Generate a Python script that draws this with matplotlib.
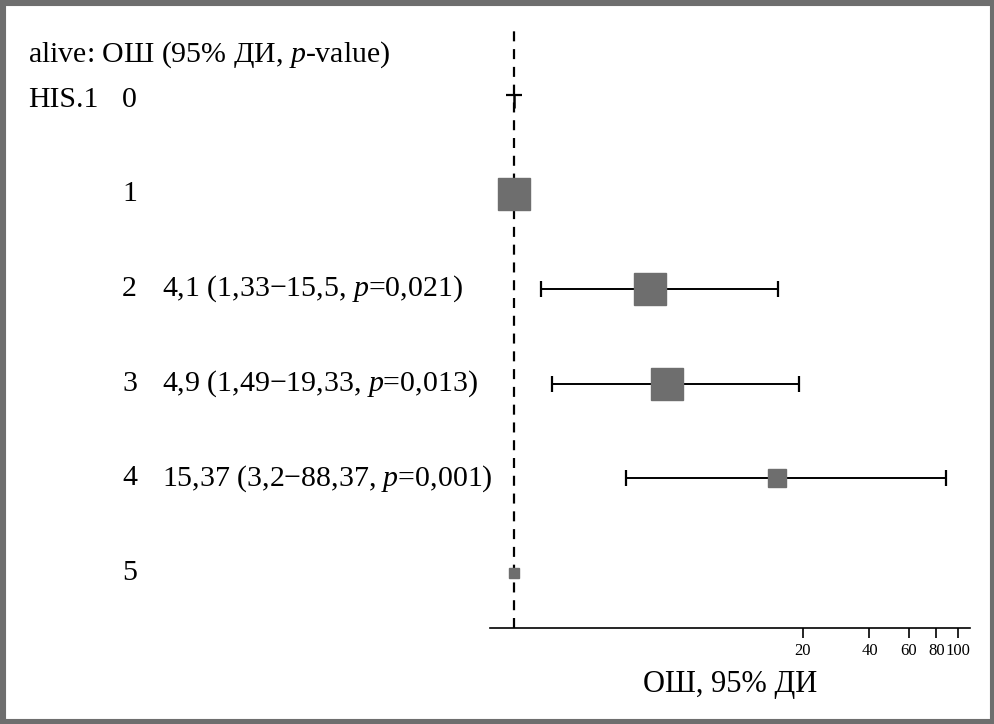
import numpy as np
import matplotlib
matplotlib.use("Agg")
import matplotlib.pyplot as plt
from matplotlib.patches import Rectangle

plt.rcParams['font.family'] = ['Liberation Serif', 'DejaVu Serif']
plt.rcParams['mathtext.fontset'] = 'custom'
plt.rcParams['mathtext.rm'] = 'Liberation Serif'
plt.rcParams['mathtext.it'] = 'Liberation Serif:italic'

# ---- data ----
variable = "HIS.1"
levels = ["0", "1", "2", "3", "4", "5"]
odds_ratio = [1.0, 1.0, 4.1, 4.9, 15.37, 1.0]
ci_low = [np.nan, np.nan, 1.33, 1.49, 3.2, np.nan]
ci_high = [np.nan, np.nan, 15.5, 19.33, 88.37, np.nan]
p_values = ["", "", "0,021", "0,013", "0,001", ""]
est_text = ["", "", "4,1 (1,33\u221215,5, ", "4,9 (1,49\u221219,33, ", "15,37 (3,2\u221288,37, ", ""]
weights = [0.0, 22.5, 22.5, 22.5, 13.5, 6.5]   # relative box sizes
xticks = [20, 40, 60, 80, 100]

W, H = 995, 724
fig = plt.figure(figsize=(W / 100, H / 100), dpi=100)
ax = fig.add_axes([490 / W, 1 - 628 / H, 480 / W, (628 - 24) / H])

ax.set_xscale('log')
ax.set_xlim(0.78, 113.5)
ax.set_ylim(5.58, -0.8)

ax.axvline(1, color='black', ls=(0, (4.5, 3.5)), lw=1.6, zorder=1)

gray = '#6e6e6e'
for i, (o, lo, hi, w) in enumerate(zip(odds_ratio, ci_low, ci_high, weights)):
    if not np.isnan(lo):
        ax.errorbar([o], [i], xerr=[[o - lo], [hi - o]], fmt='none',
                    ecolor='black', elinewidth=1.4, capsize=6, capthick=1.6, zorder=2)
    if w > 0:
        ax.plot([o], [i], marker='s', ms=w, color=gray, mec=gray, ls='none', zorder=3)
    else:
        ax.plot([o], [i - 0.05], marker='_', ms=11, mew=1.6, color='black', zorder=3)
        ax.plot([o], [i - 0.05], marker=3, ms=9, mew=1.8, color='black', zorder=3)

for s in ['top', 'right', 'left']:
    ax.spines[s].set_visible(False)
ax.spines['bottom'].set_linewidth(1.2)
ax.set_yticks([])
ax.set_xticks(xticks)
ax.set_xticklabels([str(t) for t in xticks], fontsize=12)
ax.xaxis.set_minor_locator(matplotlib.ticker.NullLocator())
ax.tick_params(axis='x', length=7, width=1.2, pad=4)
ax.set_xlabel("ОШ, 95% ДИ", fontsize=22, labelpad=8)

tr = matplotlib.transforms.blended_transform_factory(fig.transFigure, ax.transData)
fs = 21.5
ax.text(28 / W, -0.48, r"alive: ОШ (95% ДИ, $\mathit{p}$-value)", transform=tr,
        fontsize=fs, va='center', ha='left')
ax.text(28 / W, 0, variable, transform=tr, fontsize=fs, va='center', ha='left')
for i, lev in enumerate(levels):
    ax.text(122 / W, i, lev, transform=tr, fontsize=fs, va='center', ha='left')
    if est_text[i]:
        ax.text(162 / W, i, est_text[i] + r"$\mathit{p}$=" + p_values[i] + ")",
                transform=tr, fontsize=fs, va='center', ha='left')

fig.patches.append(Rectangle((0, 0), 1, 1, transform=fig.transFigure, fill=False,
                             edgecolor='#6e6e6e', lw=8, zorder=10))
fig.savefig("out.png", dpi=100)
